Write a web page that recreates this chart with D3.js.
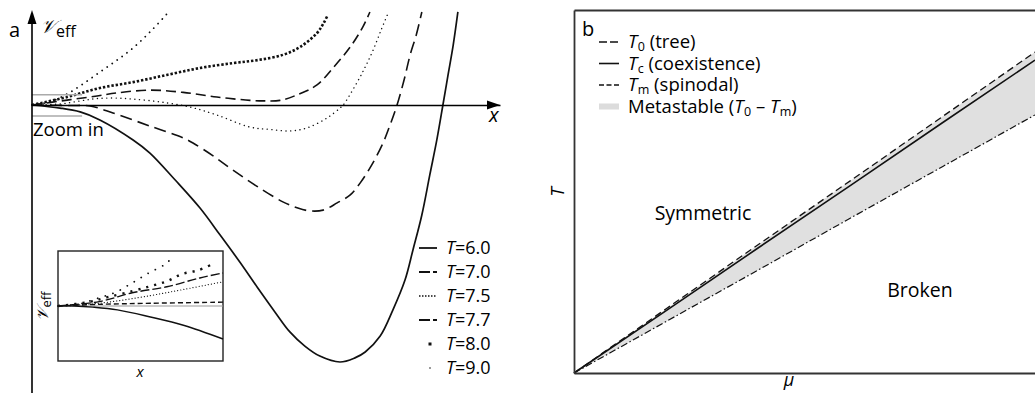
<!DOCTYPE html>
<html>
<head>
<meta charset="utf-8">
<script src="https://cdn.jsdelivr.net/npm/d3@7"></script>
<style>
  body { margin: 0; background: #fff; }
  svg { display: block; font-family: "Open Sans", sans-serif; }
</style>
</head>
<body>
<svg id="chart" width="1035" height="393"></svg>
<script>
// ---- Panel a: effective potential V_eff(x) at several temperatures ----
// x in arbitrary units (0-100), V scaled so that the T=6.0 minimum sits at -100
const tempLabels = ["6.0", "7.0", "7.5", "7.7", "8.0", "9.0"];

const potT60 = [[0,0],[6.0,-1.2],[10.3,-2.7],[14.5,-5.8],[21.6,-13.6],[25.2,-18.7],[30.6,-29.2],[35.9,-40.1],[40.2,-50.6],[44.4,-61.1],[48.1,-70.8],[51.9,-80.5],[55.1,-88.3],[58.3,-93.8],[61.5,-97.7],[65.8,-100],[69.0,-98.4],[71.2,-96.1],[74.4,-89.9],[77.1,-79.8],[79.7,-68.1],[81.4,-56.4],[83.3,-42.8],[85.0,-27.2],[86.5,-13.6],[87.8,0],[88.9,11.7],[90.0,23.3],[91.0,36.2]];
const potT70 = [[0,0],[8.1,-0.2],[12.4,-0.4],[17.3,-3.1],[25.2,-8.2],[32.3,-12.8],[34.4,-14.8],[38.7,-19.8],[42.9,-25.3],[48.3,-31.9],[53.6,-37.7],[56.8,-40.1],[59.4,-41.2],[62.2,-40.9],[65.2,-38.1],[68.0,-35.0],[70.1,-30.4],[72.6,-23.3],[75.0,-14.8],[76.5,-7.8],[78.0,0],[79.5,9.7],[80.8,19.5],[82.1,27.2],[83.3,36.2]];
const potT75 = [[0,0],[6.0,0.4],[10.3,1.6],[13.9,2.5],[17.7,2.7],[21.6,2.3],[27.4,1.2],[33.8,-0.8],[39.5,-3.9],[46.6,-8.6],[50.9,-9.5],[55.1,-10.1],[58.8,-8.9],[63.0,-5.1],[65.8,-1.2],[66.5,0],[69.4,8.6],[71.2,14.8],[72.9,21.4],[74.6,29.2],[76.1,35.8]];
const potT77 = [[0,0],[7.5,1.9],[13.9,3.5],[18.2,4.7],[25.2,5.8],[32.3,4.9],[39.5,3.1],[46.6,1.8],[49.4,1.6],[53.0,1.8],[56.6,3.9],[60.9,7.8],[64.3,14.4],[68.0,22.6],[70.7,30.4],[72.2,36.2]];
const potT80 = [[0,0],[7.5,3.1],[14.5,6.6],[21.6,8.9],[28.8,11.7],[35.9,14.4],[42.9,16.3],[48.3,17.5],[53.6,19.5],[57.3,22.6],[60.9,28.0],[62.2,31.5],[63.2,35.0]];
const potT90 = [[0,0],[3.8,1.2],[7.5,4.3],[10.9,8.2],[14.5,12.8],[18.2,17.5],[21.6,22.2],[25.2,28.4],[28.8,35.4],[29.5,37.0]];

// Inset: close-up of the region near x = 0 (x 0-10, V -10..10)
const zoomT60 = [[0,0],[1.0,0],[2.1,-0.2],[3.6,-0.7],[5.6,-2.0],[7.6,-3.5],[10,-6.0]];
const zoomT70 = [[0,0],[2.5,0.3],[5.6,0.5],[10,0.7]];
const zoomT75 = [[0,0],[2.5,0.5],[5.6,1.9],[7.6,3.0],[10,4.4]];
const zoomT77 = [[0,0],[2.5,0.8],[4.5,2.4],[6.6,3.5],[8.6,5.1],[10,6.0]];
const zoomT80 = [[0,0],[1.8,0.7],[3.0,1.6],[4.5,2.7],[5.6,3.6],[6.6,4.5],[7.5,5.8],[8.5,6.5],[9.5,7.8]];
const zoomT90 = [[0,0],[1.2,0.3],[2.5,1.5],[3.5,2.5],[4.5,4.2],[5.5,6.0],[6.5,7.6],[7.0,9.1]];

// ---- Panel b: phase diagram T(mu) ----
const mu      = [0, 0.2, 0.4, 0.6, 0.8, 1.0];
const tTree   = [0, 0.177, 0.354, 0.530, 0.707, 0.884];
const tCoex   = [0, 0.172, 0.345, 0.517, 0.690, 0.862];
const tSpin   = [0, 0.142, 0.284, 0.427, 0.569, 0.711];

const legendB = ["tree", "coexistence", "spinodal"];

// ---------------------------------------------------------------
const svg = d3.select("#chart");

const xA = d3.scaleLinear().domain([0, 100]).range([32, 500]);
const yA = d3.scaleLinear().domain([-100, 0]).range([362, 105]);

// curve styles: stroke width, dash pattern, line cap
const styleA = [
  {w: 1.7, dash: null, cap: "butt"},
  {w: 1.6, dash: "12,6", cap: "butt"},
  {w: 1.4, dash: "0.1,4.6", cap: "round"},
  {w: 1.6, dash: "10,5", cap: "butt"},
  {w: 2.6, dash: "2.4,1.9", cap: "butt"},
  {w: 1.8, dash: "0.1,6", cap: "round"}
];
const potentials = [potT60, potT70, potT75, potT77, potT80, potT90];

const lineA = d3.line().x(d => xA(d[0])).y(d => yA(d[1])).curve(d3.curveCatmullRom.alpha(0.5));

const gA = svg.append("g");
potentials.forEach((pts, i) => {
  const s = styleA[i];
  gA.append("path")
    .attr("d", lineA(pts))
    .attr("fill", "none")
    .attr("stroke", "#111")
    .attr("stroke-width", s.w)
    .attr("stroke-linecap", s.cap)
    .attr("stroke-dasharray", s.dash);
});

// zoom-window markers near the origin
[4, -4.3].forEach(v => {
  gA.append("line")
    .attr("x1", xA(0)).attr("x2", xA(10.7))
    .attr("y1", yA(v)).attr("y2", yA(v))
    .attr("stroke", "#aaa").attr("stroke-width", 1.4);
});

// axes with arrows
const xAxisA = d3.axisBottom(xA).tickValues([]).tickSizeOuter(0);
gA.append("g").attr("transform", `translate(0,${yA(0)})`).call(xAxisA)
  .select(".domain").attr("stroke", "#000").attr("stroke-width", 1.6);
gA.append("line").attr("x1", xA(0)).attr("x2", xA(0)).attr("y1", 393).attr("y2", 20)
  .attr("stroke", "#000").attr("stroke-width", 1.6);
gA.append("path").attr("d", `M${xA(0)},10 L${xA(0) - 4.5},24 L${xA(0) + 4.5},24 Z`).attr("fill", "#000");
gA.append("path").attr("d", `M${xA(100)},${yA(0)} L${xA(100) - 13},${yA(0) - 4.5} L${xA(100) - 13},${yA(0) + 4.5} Z`).attr("fill", "#000");

gA.append("text").attr("x", 9).attr("y", 37).attr("font-size", 20).text("a");
const vLab = gA.append("text").attr("x", 40).attr("y", 33).attr("font-size", 19);
vLab.append("tspan").attr("font-family", "DejaVu Serif, serif").attr("font-style", "italic").text("𝒱");
vLab.append("tspan").attr("font-size", 16).attr("dy", 4).text("eff");
gA.append("text").attr("x", 489).attr("y", 122).attr("font-size", 20).attr("font-style", "italic").text("x");
gA.append("text").attr("x", 33).attr("y", 136).attr("font-size", 18.5).text("Zoom in");

// inset
const xI = d3.scaleLinear().domain([0, 10]).range([58, 223]);
const yI = d3.scaleLinear().domain([-10, 10]).range([361, 251]);
const gI = svg.append("g");
gI.append("rect").attr("x", xI(0)).attr("y", yI(10)).attr("width", xI(10) - xI(0)).attr("height", yI(-10) - yI(10))
  .attr("fill", "#fff").attr("stroke", "#222").attr("stroke-width", 1.4);
gI.append("line").attr("x1", xI(0)).attr("x2", xI(10)).attr("y1", yI(0)).attr("y2", yI(0))
  .attr("stroke", "#999").attr("stroke-width", 1.2);
const styleI = [
  {w: 1.4, dash: null, cap: "butt"},
  {w: 1.4, dash: "5,3", cap: "butt"},
  {w: 1.2, dash: "0.1,3", cap: "round"},
  {w: 1.4, dash: "9,3", cap: "butt"},
  {w: 2.4, dash: "2.2,6", cap: "butt"},
  {w: 1.8, dash: "0.1,8", cap: "round"}
];
const lineI = d3.line().x(d => xI(d[0])).y(d => yI(d[1])).curve(d3.curveCatmullRom.alpha(0.5));
[zoomT60, zoomT70, zoomT75, zoomT77, zoomT80, zoomT90].forEach((pts, i) => {
  const s = styleI[i];
  gI.append("path").attr("d", lineI(pts)).attr("fill", "none")
    .attr("stroke", "#111").attr("stroke-width", s.w)
    .attr("stroke-linecap", s.cap).attr("stroke-dasharray", s.dash);
});
const iy = gI.append("text").attr("transform", `translate(48,306) rotate(-90)`)
  .attr("text-anchor", "middle").attr("font-size", 16);
iy.append("tspan").attr("font-family", "DejaVu Serif, serif").attr("font-style", "italic").text("𝒱");
iy.append("tspan").attr("font-size", 13).attr("dy", 3).text("eff");
gI.append("text").attr("x", 140).attr("y", 377).attr("text-anchor", "middle")
  .attr("font-size", 15).attr("font-style", "italic").text("x");

// legend a
const legA = svg.append("g");
const legStyle = [
  {w: 1.8, dash: null},
  {w: 1.8, dash: "11,3"},
  {w: 1.6, dash: "1.5,1.5"},
  {w: 1.8, dash: "11,3"},
  {w: 3, dash: null, dot: 3},
  {w: 1, dash: null, dot: 1.3}
];
tempLabels.forEach((t, i) => {
  const y = 248 + i * 24;
  const s = legStyle[i];
  if (s.dot) {
    legA.append("rect").attr("x", 430 - s.dot / 2).attr("y", y - s.dot / 2)
      .attr("width", s.dot).attr("height", s.dot).attr("fill", "#111");
  } else {
    legA.append("line").attr("x1", 419).attr("x2", 437).attr("y1", y).attr("y2", y)
      .attr("stroke", "#111").attr("stroke-width", s.w).attr("stroke-dasharray", s.dash);
  }
  const tx = legA.append("text").attr("x", 446).attr("y", y + 6).attr("font-size", 18);
  tx.append("tspan").attr("font-style", "italic").text("T");
  tx.append("tspan").text("=" + t);
});

// ---- Panel b ----
const xB = d3.scaleLinear().domain([0, 1]).range([574, 1035]);
const yB = d3.scaleLinear().domain([0, 1]).range([373, 10]);
const gB = svg.append("g");

const bandData = mu.map((m, i) => ({m, hi: tTree[i], lo: tSpin[i]}));
gB.append("path")
  .attr("d", d3.area().x(d => xB(d.m)).y0(d => yB(d.lo)).y1(d => yB(d.hi))(bandData))
  .attr("fill", "#e0e0e0");

const lineB = d3.line().x(d => xB(d[0])).y(d => yB(d[1]));
const seriesB = [
  {vals: tSpin, w: 1.2, dash: "7,2.5,1.5,2.5"},
  {vals: tTree, w: 1.3, dash: "7,4"},
  {vals: tCoex, w: 1.6, dash: null}
];
seriesB.forEach(s => {
  gB.append("path").attr("d", lineB(mu.map((m, i) => [m, s.vals[i]])))
    .attr("fill", "none").attr("stroke", "#111")
    .attr("stroke-width", s.w).attr("stroke-dasharray", s.dash);
});

// frame: left, bottom, top
gB.append("g").attr("transform", `translate(0,${yB(0)})`)
  .call(d3.axisBottom(xB).tickValues([]).tickSizeOuter(0))
  .select(".domain").attr("stroke", "#333").attr("stroke-width", 1.8);
gB.append("g").attr("transform", `translate(0,${yB(1)})`)
  .call(d3.axisTop(xB).tickValues([]).tickSizeOuter(0))
  .select(".domain").attr("stroke", "#333").attr("stroke-width", 1.8);
gB.append("g").attr("transform", `translate(${xB(0)},0)`)
  .call(d3.axisLeft(yB).tickValues([]).tickSizeOuter(0))
  .select(".domain").attr("stroke", "#333").attr("stroke-width", 1.8);

gB.append("text").attr("transform", "translate(564,192) rotate(-90)").attr("text-anchor", "middle")
  .attr("font-size", 19).attr("font-style", "italic").text("T");
gB.append("text").attr("x", 789).attr("y", 386).attr("text-anchor", "middle")
  .attr("font-size", 18).attr("font-style", "italic").text("μ");
gB.append("text").attr("x", 703).attr("y", 220).attr("text-anchor", "middle").attr("font-size", 19.5).text("Symmetric");
gB.append("text").attr("x", 920).attr("y", 297).attr("text-anchor", "middle").attr("font-size", 19.5).text("Broken");
gB.append("text").attr("x", 582).attr("y", 36).attr("font-size", 20).text("b");

// legend b
const legB = svg.append("g");
const subs = ["0", "c", "m"];
const legBStyle = [{w: 1.6, dash: "8,3"}, {w: 1.6, dash: null}, {w: 1.6, dash: "5,2.5"}];
legendB.forEach((name, i) => {
  const y = 42 + i * 21.5;
  legB.append("line").attr("x1", 599).attr("x2", 619).attr("y1", y).attr("y2", y)
    .attr("stroke", "#111").attr("stroke-width", legBStyle[i].w).attr("stroke-dasharray", legBStyle[i].dash);
  const t = legB.append("text").attr("x", 628).attr("y", y + 6).attr("font-size", 18.5);
  t.append("tspan").attr("font-style", "italic").text("T");
  t.append("tspan").attr("font-size", 12.5).attr("dy", 3).attr("dx", 0.5).text(subs[i]);
  t.append("tspan").attr("dy", -3).text(" (" + name + ")");
});
{
  const y = 42 + 3 * 21.5;
  legB.append("rect").attr("x", 599).attr("y", y - 3).attr("width", 20).attr("height", 6).attr("fill", "#dcdcdc");
  const t = legB.append("text").attr("x", 628).attr("y", y + 6).attr("font-size", 18.5);
  t.append("tspan").text("Metastable (");
  t.append("tspan").attr("font-style", "italic").text("T");
  t.append("tspan").attr("font-size", 12.5).attr("dy", 3).attr("dx", 0.5).text("0");
  t.append("tspan").attr("dy", -3).text(" – ");
  t.append("tspan").attr("font-style", "italic").text("T");
  t.append("tspan").attr("font-size", 12.5).attr("dy", 3).attr("dx", 0.5).text("m");
  t.append("tspan").attr("dy", -3).text(")");
}
</script>
</body>
</html>
